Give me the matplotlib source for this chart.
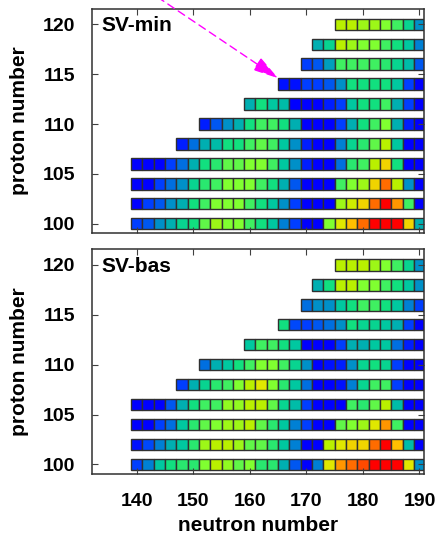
import matplotlib
matplotlib.use('Agg')
import matplotlib.pyplot as plt
import numpy as np
from matplotlib.colors import LinearSegmentedColormap, Normalize

# proton rows and the first neutron number of each row (rows run up to N=190)
protons = [100, 102, 104, 106, 108, 110, 112, 114, 116, 118, 120]
n_first = [140, 140, 140, 140, 148, 152, 160, 166, 170, 172, 176]
n_last = 190

# colour level of each cell (0 = blue ... 13 = red), read row by row
sv_min = [
    [1, 1.5, 3, 4, 5.5, 6, 7.5, 8.5, 8, 8, 7, 6, 5, 2.5, 1, 0, 0, 8, 10, 11, 12, 13, 13, 13, 10.5, 4],
    [0, 1, 1.5, 3, 4, 6, 7, 8, 8, 8, 7, 6, 5, 3, 1, 0, 0, 0, 8.5, 9.5, 10.5, 12, 13, 11.5, 7, 0],
    [0, 0, 1, 2, 3, 5.5, 6.5, 7, 8, 8, 8, 7, 6, 4, 1.5, 0, 0, 0, 7, 8, 8.5, 10.5, 12, 9, 3, 0],
    [0, 0, 0, 1, 2, 4, 6, 6.5, 7.5, 7.5, 8, 8, 7, 5, 3, 0.5, 0, 0, 2, 6.5, 7, 9, 10.5, 6, 0, 0],
    [0.5, 2, 4, 4.5, 6, 6, 7, 7.5, 7, 5, 3, 0.5, 0, 0, 2.5, 5.5, 6.5, 7.5, 9, 5, 0, 0],
    [0.5, 1.5, 3, 4, 6, 7, 7, 6, 4, 0, 0, 0, 1, 4, 6, 7, 8, 4, 0.5, 0],
    [4, 6, 5, 4.5, 0, 0, 0, 0.5, 1, 5, 6, 6, 7, 4, 1, 0],
    [0.3, 0.3, 1, 1, 1.5, 3, 6, 6, 6, 6, 5, 1, 0],
    [1, 1.5, 3.5, 7, 7, 7, 7, 6.5, 5.5, 4.5, 1.5],
    [4, 5.5, 9, 8.5, 8, 8, 7, 6, 5, 2.5],
    [9, 9, 8.5, 8.5, 8, 7, 5.5, 3],
]

sv_bas = [
    [1, 2.5, 5, 6, 6.5, 6.5, 8, 9, 8.3, 7.5, 8, 6.5, 6.5, 4, 1.5, 0, 2.5, 10, 11.5, 12, 12.3, 13, 13, 13, 10, 3],
    [0.3, 1.2, 2.5, 4, 5, 6.5, 8.5, 9, 9, 8.5, 7.5, 7.5, 6.5, 5, 2.5, 0, 0, 9, 10, 10.5, 10.5, 12, 13, 11, 4.5, 0],
    [0, 0, 1, 2, 5, 6.5, 7.5, 8, 8.5, 8.5, 9, 7.5, 6.5, 5, 2.5, 1, 0, 0, 7.5, 8, 8.5, 10, 11.5, 7, 0, 0],
    [0, 0, 0, 1.5, 4, 6, 7, 7, 8.3, 8.3, 9, 9, 7.5, 5.5, 4.5, 1, 0, 0, 0, 7, 6.5, 7.5, 9, 4.5, 0, 0],
    [1, 4, 5.5, 6.5, 7, 8, 9, 10, 8, 6.5, 5, 2, 0, 0, 0.3, 2.5, 5.5, 7, 7, 1, 0, 0],
    [2, 4, 5, 6, 7, 8, 8, 7, 5.5, 3, 0, 0.3, 0.5, 3, 5.5, 6, 5.5, 1, 0, 0],
    [5, 7, 7, 6, 5, 0, 0, 0, 1, 4, 4, 5, 5, 2, 0.5, 0],
    [6, 1.2, 1, 1.5, 2, 3, 6, 5.5, 5.5, 5, 4, 1, 0],
    [2, 3, 3, 5, 6, 7, 7, 6, 5, 2.5, 1],
    [4, 6, 9, 9, 8, 8, 7, 6, 5, 3],
    [9, 9, 9, 8.5, 8, 7, 5.5, 3],
]

panels = [('SV-min', sv_min), ('SV-bas', sv_bas)]

# arrow in the upper panel: (N, Z) of tail and tip
arrow_tail = (140, 124.15)
arrow_tip = (165, 114.6)

levels = ['#0000ff', '#0040ff', '#0070e0', '#0090c8', '#00b0b0', '#00c8a0', '#10e080',
          '#40f060', '#80ff30', '#b8f000', '#e0e800', '#ffc000', '#ff7000', '#ff0000']
cmap = LinearSegmentedColormap.from_list('pal', levels)
norm = Normalize(0, len(levels) - 1)

plt.rcParams['font.family'] = ['Liberation Sans', 'DejaVu Sans']
plt.rcParams['font.weight'] = 'bold'

fig = plt.figure(figsize=(4.41, 5.42), dpi=100)
ax_top = fig.add_axes([0.208, 0.570, 0.7535, 0.4134])
ax_bot = fig.add_axes([0.208, 0.1255, 0.7535, 0.4145])

for ax, (name, data) in zip([ax_top, ax_bot], panels):
    for z, n0, vals in zip(protons, n_first, data):
        neutrons = np.arange(n0, n_last + 1, 2)
        ax.bar(neutrons, 1.16, width=2, bottom=z - 0.58,
               color=cmap(norm(np.array(vals))), edgecolor='#303030', linewidth=1.0)

    ax.set_xlim(132.04, 190.8)
    ax.set_ylim(99.05, 121.55)
    ax.set_xticks(range(140, 191, 10))
    ax.set_yticks(range(100, 121, 5))
    ax.tick_params(direction='in', top=True, right=True, length=4, width=0.8,
                   color='#404040', labelsize=14)
    ax.tick_params(axis='x', pad=14)
    ax.tick_params(axis='y', pad=12)
    for s in ax.spines.values():
        s.set_linewidth(1.1)
        s.set_color('#303030')

    ax.text(0.03, 0.9, name, transform=ax.transAxes, fontsize=15,
            fontweight='bold', va='baseline')
    ax.set_ylabel('proton number', fontsize=15, fontweight='bold')
    ax.yaxis.set_label_coords(-0.189, 0.5)

ax_top.tick_params(labelbottom=False)
ax_bot.set_xlabel('neutron number', fontsize=15, fontweight='bold')
ax_bot.xaxis.set_label_coords(0.5, -0.187)

ax_top.annotate('', xy=arrow_tip, xytext=arrow_tail, annotation_clip=False,
                arrowprops=dict(arrowstyle='-|>,head_length=1.6,head_width=0.45',
                                color='magenta', lw=1.0, linestyle=(0, (5.5, 3.5)),
                                shrinkA=0, shrinkB=0))

fig.savefig('out.png', dpi=100)
